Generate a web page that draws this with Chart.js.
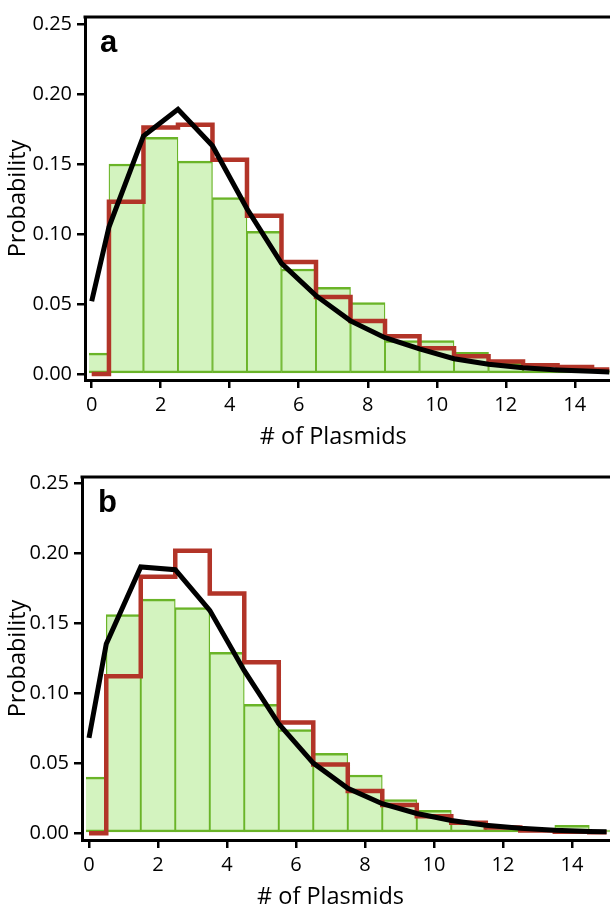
<!DOCTYPE html>
<html><head><meta charset="utf-8">
<script src="https://cdn.jsdelivr.net/npm/chart.js@4.4.0/dist/chart.umd.min.js"></script>
<style>
html,body{margin:0;padding:0;background:#fff;overflow:hidden;width:610px;height:906px;}
.panel{position:absolute;left:0;width:610px;height:460px;}
</style></head><body>
<div class="panel" style="top:0"><canvas id="ca" width="610" height="460"></canvas></div>
<div class="panel" style="top:460px"><canvas id="cb" width="610" height="460"></canvas></div>
<script>
// ---- data ----
const plasmidCounts = [0,1,2,3,4,5,6,7,8,9,10,11,12,13,14,15];
const curveX = [0,0.5,1.5,2.5,3.5,4.5,5.5,6.5,7.5,8.5,9.5,10.5,11.5,12.5,13.5,14.5,15];
const xTicks = [0,2,4,6,8,10,12,14];
const yTicks = [0,0.05,0.10,0.15,0.20,0.25];
const xTitle = '# of Plasmids';
const yTitle = 'Probability';

const histA  = [0.015,0.150,0.169,0.152,0.126,0.102,0.075,0.062,0.051,0.024,0.024,0.0155,0.008,0.004,0.003,0.002];
const stepA  = [0,0.123,0.176,0.178,0.153,0.113,0.080,0.055,0.038,0.027,0.0185,0.0127,0.009,0.0063,0.005,0.0033];
const curveA = [0.052,0.105,0.170,0.189,0.163,0.118,0.079,0.056,0.038,0.026,0.018,0.011,0.007,0.0045,0.003,0.002,0.0015];

const histB  = [0.040,0.156,0.167,0.161,0.129,0.092,0.074,0.057,0.0415,0.024,0.0162,0.008,0.004,0.003,0.0056,0.0022];
const stepB  = [0,0.112,0.183,0.2015,0.171,0.122,0.079,0.049,0.030,0.020,0.012,0.0075,0.004,0.0018,0.001,0.0007];
const curveB = [0.068,0.135,0.190,0.188,0.159,0.116,0.078,0.050,0.032,0.021,0.014,0.009,0.0056,0.0035,0.002,0.0012,0.001];

// ---- styles ----
const FONT = "'Open Sans', sans-serif";
const GREEN_FILL = 'rgb(211,243,191)';
const GREEN_LINE = 'rgb(106,180,40)';
const RED = 'rgb(178,52,40)';

const frameAndLabel = {
  id: 'frameAndLabel',
  afterDraw(chart, args, opts) {
    const {ctx, chartArea, scales} = chart;
    ctx.save();
    // top frame line
    ctx.strokeStyle = '#000';
    ctx.lineWidth = 3;
    ctx.beginPath();
    ctx.moveTo(chartArea.left - 1.5, chartArea.top);
    ctx.lineTo(chartArea.right, chartArea.top);
    ctx.stroke();
    // panel letter
    ctx.fillStyle = '#000';
    ctx.font = "bold 31px 'Liberation Sans', Arial, sans-serif";
    ctx.textBaseline = 'alphabetic';
    ctx.textAlign = 'left';
    ctx.fillText(opts.text, chartArea.left + opts.dx, chartArea.top + 35);
    // x-axis title, centred on the tick span
    const xs = scales.x;
    const mid = (xTicks[0] + xTicks[xTicks.length - 1]) / 2;
    ctx.font = "23.5px " + FONT;
    ctx.textAlign = 'center';
    ctx.textBaseline = 'middle';
    ctx.fillText(xTitle, xs.getPixelForValue(mid), xs.bottom - 23);
    ctx.restore();
  }
};

function makeChart(id, label, hist, step, curve, ax) {
  new Chart(document.getElementById(id), {
    type: 'bar',
    data: {
      datasets: [
        {
          type: 'bar',
          data: plasmidCounts.map((c, i) => ({x: c, y: hist[i]})),
          backgroundColor: GREEN_FILL,
          borderColor: GREEN_LINE,
          borderWidth: {top: 2.5, bottom: 2.5, left: 1.3, right: 1.3},
          borderSkipped: false,
          barPercentage: 1,
          categoryPercentage: 1,
          order: 3,
          clip: {left: -4, top: 5, right: 0, bottom: 5}
        },
        {
          type: 'line',
          data: plasmidCounts.map((c, i) => ({x: c, y: step[i]})),
          stepped: 'middle',
          borderColor: RED,
          borderWidth: 4.5,
          pointRadius: 0,
          fill: false,
          order: 2
        },
        {
          type: 'line',
          data: curveX.map((c, i) => ({x: c, y: curve[i]})),
          borderColor: '#000',
          borderWidth: 5,
          pointRadius: 0,
          tension: 0,
          fill: false,
          order: 1
        }
      ]
    },
    options: {
      responsive: false,
      animation: false,
      devicePixelRatio: 1,
      layout: {padding: {top: 13, right: 0, left: 0, bottom: 0}},
      plugins: {legend: {display: false}, tooltip: {enabled: false}, frameAndLabel: {text: label, dx: ax.labelDx}},
      scales: {
        x: {
          type: 'linear',
          offset: false,
          min: ax.xmin, max: ax.xmax,
          afterBuildTicks: s => { s.ticks = xTicks.map(v => ({value: v})); },
          afterFit: s => { s.height = 80; },
          grid: {display: true, offset: false, drawOnChartArea: false, drawTicks: true, tickLength: 8, lineWidth: 2.5, color: '#000'},
          border: {display: true, color: '#000', width: 3},
          ticks: {color: '#000', font: {family: FONT, size: 20}, padding: 5, maxRotation: 0, autoSkip: false},
          title: {display: false}
        },
        y: {
          min: ax.ymin, max: ax.ymax,
          afterBuildTicks: s => { s.ticks = yTicks.map(v => ({value: v})); },
          afterFit: s => { s.width = ax.left; },
          grid: {display: true, drawOnChartArea: false, drawTicks: true, tickLength: 8, lineWidth: 2.5, color: '#000'},
          border: {display: true, color: '#000', width: 3},
          ticks: {color: '#000', font: {family: FONT, size: 20}, padding: 5, callback: v => Number(v).toFixed(2)},
          title: {display: true, text: yTitle, color: '#000', font: {family: FONT, size: 23.5}, padding: {top: 4, bottom: 0}}
        }
      }
    },
    plugins: [frameAndLabel]
  });
}

makeChart('ca', 'a', histA, stepA, curveA, {xmin: -0.194, xmax: 15.02, ymin: -0.0042, ymax: 0.2549, left: 85, labelDx: 15});
makeChart('cb', 'b', histB, stepB, curveB, {xmin: -0.203, xmax: 15.1, ymin: -0.0049, ymax: 0.2542, left: 82, labelDx: 16});
</script>
</body></html>
